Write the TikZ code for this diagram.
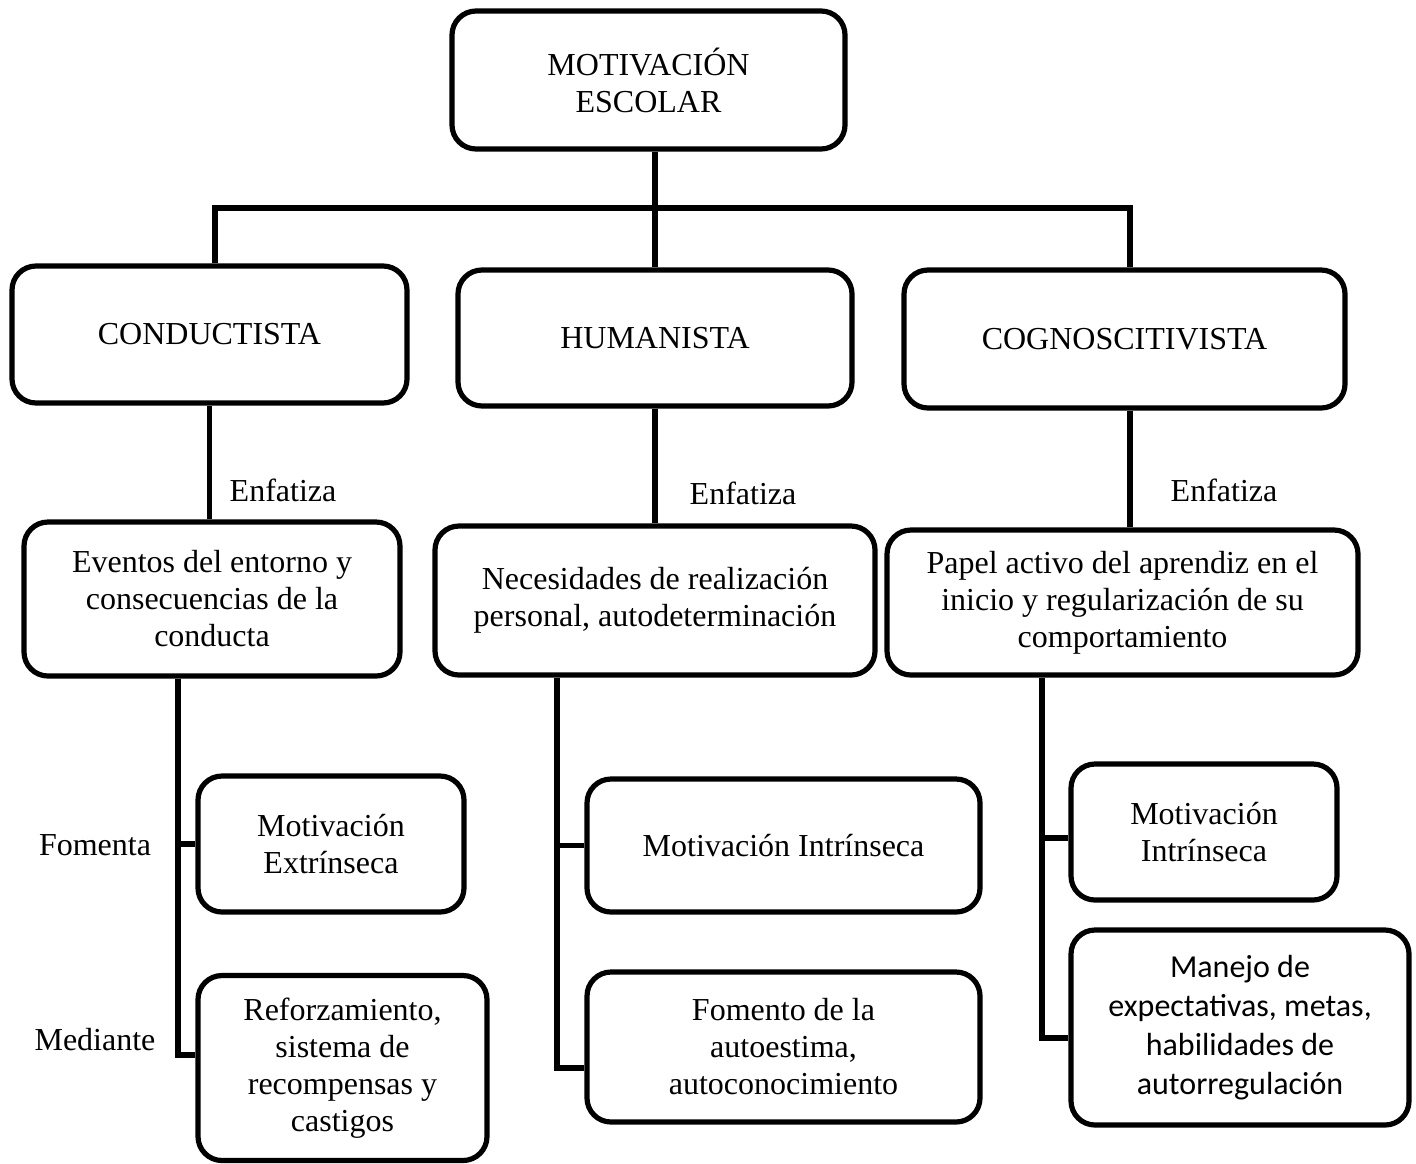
\documentclass[tikz,border=0pt]{standalone}
\usepackage{fontspec}
\setmainfont{Liberation Serif}
\newfontfamily\calib{Carlito}
\begin{document}
\begin{tikzpicture}[x=0.5pt,y=-0.5pt,
  box/.style={draw, line width=2.6pt, rounded corners=12pt, align=center, inner sep=0pt,
    font=\fontsize{16}{18.5}\selectfont},
  lbl/.style={font=\fontsize{16}{18.5}\selectfont, inner sep=0pt},
  conn/.style={line width=2.8pt}]
\useasboundingbox (0,0) rectangle (1416,1163);
% level 0
\node[box, minimum width=196.5pt, minimum height=69pt] (top) at (648.5,80) {MOTIVACIÓN\\ESCOLAR};
% level 1
\node[box, minimum width=197.5pt, minimum height=68.5pt] (cond) at (209.5,334.5) {CONDUCTISTA};
\node[box, minimum width=197pt, minimum height=68pt] (hum) at (655,338) {HUMANISTA};
\node[box, minimum width=220.5pt, minimum height=69pt] (cog) at (1124.5,339) {COGNOSCITIVISTA};
% level 2
\node[box, minimum width=188pt, minimum height=77pt] (ev) at (212,599) {Eventos del entorno y\\consecuencias de la\\conducta};
\node[box, minimum width=220pt, minimum height=74.5pt] (nec) at (655,600.5) {Necesidades de realización\\personal, autodeterminación};
\node[box, minimum width=235.5pt, minimum height=72.5pt] (pap) at (1122.5,602.5) {Papel activo del aprendiz en el\\inicio y regularización de su\\comportamiento};
% level 3
\node[box, minimum width=133pt, minimum height=68pt] (me) at (331,844) {Motivación\\Extrínseca};
\node[box, minimum width=144.5pt, minimum height=92.5pt] (ref) at (342.5,1068) {Reforzamiento,\\sistema de\\recompensas y\\castigos};
\node[box, minimum width=196.5pt, minimum height=66.5pt] (mi) at (783.5,845.5) {Motivación Intrínseca};
\node[box, minimum width=196.5pt, minimum height=75pt] (fom) at (783.5,1047) {Fomento de la\\autoestima,\\autoconocimiento};
\node[box, minimum width=133pt, minimum height=68pt] (mi2) at (1204,832) {Motivación\\Intrínseca};
\node[box, minimum width=169pt, minimum height=97.5pt, font=\calib\fontsize{16}{19.5}\selectfont] (man) at (1240,1027.5) {Manejo de\\expectativas, metas,\\habilidades de\\autorregulación};
% connectors top
\coordinate (j) at (655,208);
\coordinate (jl) at (215,208);
\coordinate (jr) at (1130,208);
\draw[conn] (top.south -| j) -- (hum.north -| j);
\draw[conn] (cond.north -| jl) -- (jl) -- (jr) -- (cog.north -| jr);
% enfatiza lines
\draw[conn] (cond.south) -- (cond.south |- ev.north);
\draw[conn] (hum.south) -- (hum.south |- nec.north);
\draw[conn] (cog.south -| jr) -- (pap.north -| jr);
\node[lbl] (e1) at (283,490) {Enfatiza};
\node[lbl] (e2) at (743,493) {Enfatiza};
\node[lbl] (e3) at (1224,490) {Enfatiza};
% left tree
\coordinate (lb) at (178,1055);
\draw[conn] (ev.south -| lb) -- (lb) -- (ref.west |- lb);
\draw[conn] (me.west -| lb) -- (me.west);
\node[lbl] (fo) at (95,845) {Fomenta};
\node[lbl] (md) at (95,1040) {Mediante};
% middle tree
\coordinate (mb) at (557,1068);
\draw[conn] (nec.south -| mb) -- (mb) -- (fom.west |- mb);
\draw[conn] (mi.west -| mb) -- (mi.west);
% right tree
\coordinate (rb) at (1042,1038);
\coordinate (rm) at (1042,838);
\draw[conn] (pap.south -| rb) -- (rb) -- (man.west |- rb);
\draw[conn] (rm) -- (mi2.west |- rm);
\end{tikzpicture}
\end{document}
